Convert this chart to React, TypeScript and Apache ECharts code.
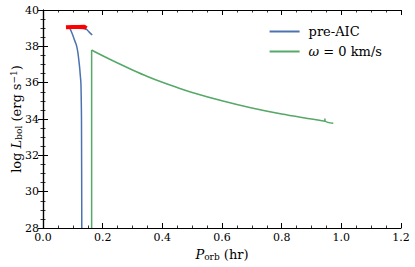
import React, { useEffect, useRef } from "react";
import * as echarts from "echarts";

const preAIC: [number, number][] = [
  [0.165, 38.62], [0.155, 38.78], [0.144, 38.95], [0.12, 39.0], [0.09, 39.0],
  [0.094, 38.85], [0.099, 38.65], [0.104, 38.42], [0.109, 38.2], [0.113, 38.0],
  [0.117, 37.65], [0.12, 37.25], [0.123, 36.8], [0.125, 36.4], [0.127, 36.0],
  [0.128, 35.3], [0.129, 34.0], [0.13, 28.0],
];
const redSeg: [number, number][] = [
  [0.077, 39.05], [0.1, 39.07], [0.12, 39.07], [0.138, 39.08], [0.146, 39.0],
];
const omegaJump: [number, number][] = [
  [0.163, 28.0], [0.163, 37.8],
];
const omegaDecay: [number, number][] = [
  [0.163, 37.8], [0.2, 37.48], [0.25, 37.08], [0.3, 36.7], [0.35, 36.34],
  [0.4, 36.02], [0.45, 35.73], [0.5, 35.46], [0.6, 35.0], [0.7, 34.6],
  [0.8, 34.27], [0.9, 34.0], [0.944, 33.88], [0.945, 34.0], [0.946, 33.88],
  [0.973, 33.76],
];
const xMin = 0, xMax = 1.2, xStep = 0.2;
const yMin = 28, yMax = 40, yStep = 2;

const FONT = "DejaVu Serif";
const BLUE = "#4C72B0";
const GREEN = "#55A868";

export default function App() {
  const ref = useRef<HTMLDivElement>(null);
  useEffect(() => {
    const chart = echarts.init(ref.current!, null, { renderer: "svg" });
    const axisCommon = {
      axisLine: { show: true, lineStyle: { color: "#000", width: 1.2 } },
      axisTick: { show: true, inside: true, length: 5, lineStyle: { color: "#000", width: 1 } },
      minorTick: { show: true, splitNumber: 4, length: 2.5, lineStyle: { color: "#000", width: 0.8 } },
      splitLine: { show: false },
    };
    chart.setOption({
      animation: false,
      backgroundColor: "#fff",
      grid: { left: 43, right: 14, top: 10, bottom: 39, outerBoundsMode: "none", containLabel: false },
      legend: {
        right: 28,
        top: 20,
        orient: "vertical",
        itemWidth: 30,
        itemHeight: 2,
        itemGap: 7,
        icon: "rect",
        data: ["pre-AIC", "omega"],
        formatter: (n: string) => (n === "omega" ? "{i|ω} = 0 km/s" : "pre-AIC"),
        textStyle: {
          fontFamily: FONT, fontSize: 13, color: "#000", padding: [0, 0, 0, 4],
          rich: { i: { fontFamily: FONT, fontStyle: "italic", fontSize: 13 } },
        },
      },
      xAxis: [
        {
          type: "value", min: xMin, max: xMax, interval: xStep,
          ...axisCommon,
          axisLabel: {
            fontFamily: FONT, fontSize: 11, color: "#000", margin: 4,
            formatter: (v: number) => v.toFixed(1),
          },
          name: "{i|P}{s|orb} (hr)",
          nameLocation: "middle",
          nameGap: 19,
          nameMoveOverlap: false,
          nameTextStyle: {
            fontFamily: FONT, fontSize: 13, color: "#000",
            rich: {
              i: { fontFamily: FONT, fontStyle: "italic", fontSize: 13 },
              s: { fontFamily: FONT, fontSize: 9, verticalAlign: "bottom", padding: [5, 0, 0, 0] },
            },
          },
        },
        {
          type: "value", min: xMin, max: xMax, interval: xStep, position: "top",
          ...axisCommon, axisLabel: { show: false },
        },
      ],
      yAxis: [
        {
          type: "value", min: yMin, max: yMax, interval: yStep,
          ...axisCommon,
          axisLabel: { fontFamily: FONT, fontSize: 11, color: "#000", margin: 4 },
          name: "log {i|L}{s|bol} (erg s{u|−1})",
          nameLocation: "middle",
          nameGap: 20,
          nameMoveOverlap: false,
          nameTextStyle: {
            fontFamily: FONT, fontSize: 13, color: "#000",
            rich: {
              i: { fontFamily: FONT, fontStyle: "italic", fontSize: 13 },
              s: { fontFamily: FONT, fontSize: 9, verticalAlign: "bottom", padding: [5, 0, 0, 0] },
              u: { fontFamily: FONT, fontSize: 9, verticalAlign: "top", padding: [0, 0, 5, 0] },
            },
          },
        },
        {
          type: "value", min: yMin, max: yMax, interval: yStep, position: "right",
          ...axisCommon, axisLabel: { show: false },
        },
      ],
      series: [
        {
          name: "pre-AIC", type: "line", data: preAIC, showSymbol: false, symbol: "none", smooth: 0.3,
          lineStyle: { color: BLUE, width: 1.5 }, itemStyle: { color: BLUE },
        },
        {
          name: "red", type: "line", data: redSeg, showSymbol: false, symbol: "none",
          lineStyle: { color: "#ff0000", width: 4 }, itemStyle: { color: "#ff0000" }, z: 3,
        },
        {
          name: "omega", type: "line", data: omegaJump, showSymbol: false, symbol: "none",
          lineStyle: { color: GREEN, width: 1.5 }, itemStyle: { color: GREEN },
        },
        {
          name: "omega", type: "line", data: omegaDecay, showSymbol: false, symbol: "none", smooth: 0.3,
          lineStyle: { color: GREEN, width: 1.5 }, itemStyle: { color: GREEN },
        },
      ],
    });
    return () => chart.dispose();
  }, []);
  return (
    <div
      ref={ref}
      style={{ position: "fixed", left: 0, top: 0, width: 415, height: 267 }}
    />
  );
}
